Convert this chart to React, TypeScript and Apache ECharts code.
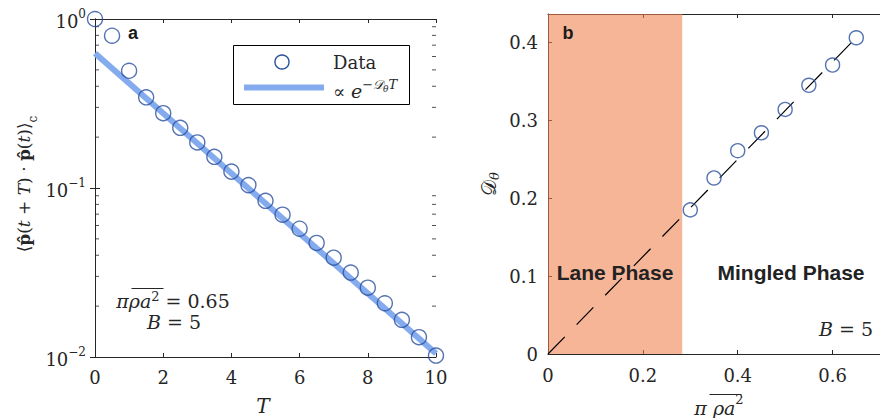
import React, { useEffect, useRef } from "react";
import * as echarts from "echarts";

// Panel a: orientation autocorrelation vs lag time T (log scale)
const lagT = [0, 0.5, 1, 1.5, 2, 2.5, 3, 3.5, 4, 4.5, 5, 5.5, 6, 6.5, 7, 7.5, 8, 8.5, 9, 9.5, 10];
const correlation = [
  1.0, 0.796, 0.494, 0.344, 0.277, 0.227, 0.186, 0.153, 0.125, 0.104, 0.084,
  0.0695, 0.0574, 0.0473, 0.0387, 0.0316, 0.0257, 0.0208, 0.0166, 0.0131, 0.0102,
];
// Exponential fit, a straight line on the log axis
const fitT = [0, 10];
const fitValues = [0.627, 0.0105];
const minorTickValues = [0.02, 0.03, 0.04, 0.05, 0.06, 0.07, 0.08, 0.09, 0.2, 0.3, 0.4, 0.5, 0.6, 0.7, 0.8, 0.9];

// Panel b: rotational diffusion vs area fraction
const areaFraction = [0.3, 0.35, 0.4, 0.45, 0.5, 0.55, 0.6, 0.65];
const rotDiffusion = [0.185, 0.226, 0.261, 0.284, 0.314, 0.345, 0.371, 0.406];
const guideX = [0, 0.66];
const guideY = [0, 0.4125];
const laneBoundary = 0.283;

const SERIF = "DejaVu Serif";
const SANS = "Liberation Sans";
const INK = "#262626";
const MARKER = "#2b509e";
const FIT = "#84abee";
const SHADE = "rgba(241,128,75,0.58)";

const supExp = (e: number) => (e < 0 ? "\u2212" + -e : String(e));

export default function App() {
  const ref = useRef<HTMLDivElement>(null);

  useEffect(() => {
    document.body.style.margin = "0";
    const chart = echarts.init(ref.current!, undefined, { renderer: "svg" });

    const axisLine = { show: true, lineStyle: { color: INK, width: 1 } };
    const tickIn = { show: true, inside: true, length: 4, lineStyle: { color: INK, width: 1 } };
    const numLabel = { fontFamily: SERIF, fontSize: 18, color: INK };

    const option: echarts.EChartsOption = {
      animation: false,
      backgroundColor: "#fff",
      textStyle: { fontFamily: SERIF },
      grid: [
        { left: 95, top: 19, width: 341, height: 338 },
        { left: 548, top: 14, width: 342, height: 340 },
      ],
      xAxis: [
        {
          gridIndex: 0, type: "value", min: 0, max: 10, interval: 2,
          axisLine, axisTick: tickIn, splitLine: { show: false },
          axisLabel: { ...numLabel, margin: 11 },
        },
        {
          gridIndex: 0, type: "value", position: "top", min: 0, max: 10, interval: 2,
          axisLine, axisTick: tickIn, splitLine: { show: false }, axisLabel: { show: false },
        },
        {
          gridIndex: 1, type: "value", min: 0, max: 0.7, interval: 0.2,
          axisLine, axisTick: tickIn, splitLine: { show: false },
          axisLabel: {
            ...numLabel, margin: 12, showMaxLabel: false,
            formatter: (v: number) => (v === 0 ? "0" : v.toFixed(1)),
          },
        },
        {
          gridIndex: 1, type: "value", position: "top", min: 0, max: 0.7, interval: 0.2,
          axisLine, axisTick: tickIn, splitLine: { show: false }, axisLabel: { show: false },
        },
      ],
      yAxis: [
        {
          gridIndex: 0, type: "log", logBase: 10, min: 0.01, max: 1,
          axisLine, axisTick: { ...tickIn, length: 5 }, splitLine: { show: false },
          axisLabel: {
            margin: 9,
            formatter: (v: number) => `{m|10}{e|${supExp(Math.round(Math.log10(v)))}}`,
            rich: {
              m: { fontFamily: SERIF, fontSize: 18, color: INK, lineHeight: 22, verticalAlign: "bottom" },
              e: { fontFamily: SERIF, fontSize: 12, color: INK, lineHeight: 12, verticalAlign: "top" },
            },
          },
        },
        {
          gridIndex: 0, type: "log", logBase: 10, min: 0.01, max: 1, position: "right",
          axisLine, axisTick: { ...tickIn, length: 5 }, splitLine: { show: false }, axisLabel: { show: false },
        },
        {
          gridIndex: 1, type: "value", min: 0, max: 0.4365, interval: 0.1,
          axisLine, axisTick: tickIn, splitLine: { show: false },
          axisLabel: {
            ...numLabel, margin: 10, showMaxLabel: false,
            formatter: (v: number) => (v === 0 ? "0" : v.toFixed(1)),
          },
        },
      ],
      series: [
        {
          type: "line", xAxisIndex: 0, yAxisIndex: 0, z: 3,
          data: fitT.map((t, i) => [t, fitValues[i]]),
          symbol: "none", lineStyle: { color: FIT, width: 6 }, silent: true,
        },
        {
          type: "scatter", xAxisIndex: 0, yAxisIndex: 0, z: 4, clip: false,
          data: lagT.map((t, i) => [t, correlation[i]]),
          symbol: "circle", symbolSize: 15,
          itemStyle: { color: "rgba(0,0,0,0)", borderColor: MARKER, borderWidth: 1.4 },
        },
        {
          type: "scatter", xAxisIndex: 0, yAxisIndex: 0, z: 2, clip: false, silent: true,
          data: minorTickValues.map((v) => [0, v]),
          symbol: "rect", symbolSize: [4, 1], symbolOffset: [2, 0], itemStyle: { color: INK },
        },
        {
          type: "scatter", xAxisIndex: 0, yAxisIndex: 0, z: 2, clip: false, silent: true,
          data: minorTickValues.map((v) => [10, v]),
          symbol: "rect", symbolSize: [4, 1], symbolOffset: [-2, 0], itemStyle: { color: INK },
        },
        {
          type: "line", xAxisIndex: 2, yAxisIndex: 2, z: 3,
          data: guideX.map((x, i) => [x, guideY[i]]),
          symbol: "none", lineStyle: { color: "#000", width: 1.2, type: [24, 17] }, silent: true,
        },
        {
          type: "line", xAxisIndex: 2, yAxisIndex: 2, z: 6, data: [], silent: true,
          markArea: {
            silent: true,
            itemStyle: { color: SHADE },
            data: [[{ xAxis: 0 }, { xAxis: laneBoundary }]],
          },
        },
        {
          type: "scatter", xAxisIndex: 2, yAxisIndex: 2, z: 7, clip: false,
          data: areaFraction.map((x, i) => [x, rotDiffusion[i]]),
          symbol: "circle", symbolSize: 14,
          itemStyle: { color: "rgba(0,0,0,0)", borderColor: MARKER, borderWidth: 1.4 },
        },
      ],
      graphic: [
        // panel tags
        { type: "text", x: 133, y: 33, z: 20, style: { text: "a", fontFamily: SANS, fontWeight: "bold", fontSize: 18, fill: "#1a1a1a", align: "center", verticalAlign: "middle" } },
        { type: "text", x: 568, y: 33, z: 20, style: { text: "b", fontFamily: SANS, fontWeight: "bold", fontSize: 18, fill: "#1a1a1a", align: "center", verticalAlign: "middle" } },
        // legend of panel a
        { type: "rect", z: 20, shape: { x: 233.5, y: 45.5, width: 176, height: 59 }, style: { fill: "#fff", stroke: "#000", lineWidth: 1 } },
        { type: "circle", z: 21, shape: { cx: 282, cy: 62, r: 7 }, style: { fill: "none", stroke: MARKER, lineWidth: 1.4 } },
        { type: "line", z: 21, shape: { x1: 244, y1: 87.5, x2: 324, y2: 87.5 }, style: { stroke: FIT, lineWidth: 6 } },
        { type: "text", x: 333, y: 62, z: 21, style: { text: "Data", fontFamily: SERIF, fontSize: 18, fill: INK, align: "left", verticalAlign: "middle" } },
        {
          type: "text", x: 333, y: 89, z: 21,
          style: {
            text: "{n|\u221d }{i|e}{s|\u2212\ud835\udc9f}{ss|\u03b8}{s|T}",
            align: "left", verticalAlign: "middle",
            rich: {
              n: { fontFamily: SERIF, fontSize: 18, fill: INK, lineHeight: 22, verticalAlign: "bottom" },
              i: { fontFamily: SERIF, fontSize: 19, fontStyle: "italic", fill: INK, lineHeight: 22, verticalAlign: "bottom" },
              s: { fontFamily: SERIF, fontSize: 13, fontStyle: "italic", fill: INK, lineHeight: 14, verticalAlign: "top" },
              ss: { fontFamily: SERIF, fontSize: 9, fontStyle: "italic", fill: INK, lineHeight: 10, verticalAlign: "middle" },
            },
          },
        },
        // parameters of panel a
        {
          type: "text", x: 173, y: 300, z: 20,
          style: {
            text: "{i|\u03c0\u03c1a}{s|2}{n| = 0.65}", align: "center", verticalAlign: "middle",
            rich: {
              i: { fontFamily: SERIF, fontSize: 19, fontStyle: "italic", fill: INK, lineHeight: 20, verticalAlign: "bottom" },
              s: { fontFamily: SERIF, fontSize: 13, fill: INK, lineHeight: 12, verticalAlign: "top" },
              n: { fontFamily: SERIF, fontSize: 19, fill: INK, lineHeight: 20, verticalAlign: "bottom" },
            },
          },
        },
        { type: "line", z: 20, shape: { x1: 131.5, y1: 288.5, x2: 163.5, y2: 288.5 }, style: { stroke: INK, lineWidth: 1 } },
        {
          type: "text", x: 174, y: 322, z: 20,
          style: {
            text: "{i|B}{n| = 5}", align: "center", verticalAlign: "middle",
            rich: {
              i: { fontFamily: SERIF, fontSize: 19, fontStyle: "italic", fill: INK, lineHeight: 20 },
              n: { fontFamily: SERIF, fontSize: 19, fill: INK, lineHeight: 20 },
            },
          },
        },
        // axis titles of panel a
        { type: "text", x: 263, y: 406, z: 20, style: { text: "T", fontFamily: SERIF, fontStyle: "italic", fontSize: 20, fill: INK, align: "center", verticalAlign: "middle" } },
        {
          type: "text", x: 27, y: 184, z: 20, rotation: Math.PI / 2,
          style: {
            text: "{n|\u27e8}{b|p\u0302}{n|(}{i|t}{n| + }{i|T}{n|) \u00b7 }{b|p\u0302}{n|(}{i|t}{n|)\u27e9}{c|c}",
            align: "center", verticalAlign: "middle",
            rich: {
              n: { fontFamily: SERIF, fontSize: 17, fill: INK, lineHeight: 24, verticalAlign: "top" },
              i: { fontFamily: SERIF, fontSize: 17, fontStyle: "italic", fill: INK, lineHeight: 24, verticalAlign: "top" },
              b: { fontFamily: SERIF, fontSize: 17, fontWeight: "bold", fill: INK, lineHeight: 24, verticalAlign: "top" },
              c: { fontFamily: SERIF, fontSize: 12, fill: INK, lineHeight: 12, verticalAlign: "bottom" },
            },
          },
        },
        // phase labels of panel b
        { type: "text", x: 615, y: 272, z: 20, style: { text: "Lane Phase", fontFamily: SANS, fontWeight: "bold", fontSize: 21, fill: "#222", align: "center", verticalAlign: "middle" } },
        { type: "text", x: 791, y: 272, z: 20, style: { text: "Mingled Phase", fontFamily: SANS, fontWeight: "bold", fontSize: 21, fill: "#222", align: "center", verticalAlign: "middle" } },
        {
          type: "text", x: 873, y: 329, z: 20,
          style: {
            text: "{i|B}{n| = 5}", align: "right", verticalAlign: "middle",
            rich: {
              i: { fontFamily: SERIF, fontSize: 19, fontStyle: "italic", fill: INK },
              n: { fontFamily: SERIF, fontSize: 19, fill: INK },
            },
          },
        },
        // axis titles of panel b
        {
          type: "text", x: 719, y: 405, z: 20,
          style: {
            text: "{i|\u03c0 \u03c1a}{s|2}", align: "center", verticalAlign: "middle",
            rich: {
              i: { fontFamily: SERIF, fontSize: 19, fontStyle: "italic", fill: INK, lineHeight: 24, verticalAlign: "bottom" },
              s: { fontFamily: SERIF, fontSize: 13, fill: INK, lineHeight: 14, verticalAlign: "top" },
            },
          },
        },
        { type: "line", z: 20, shape: { x1: 709.5, y1: 394.5, x2: 741.5, y2: 394.5 }, style: { stroke: INK, lineWidth: 1 } },
        {
          type: "text", x: 490, y: 184, z: 20, rotation: Math.PI / 2,
          style: {
            text: "{d|\ud835\udc9f}{t|\u03b8}", align: "center", verticalAlign: "middle",
            rich: {
              d: { fontFamily: SERIF, fontSize: 20, fill: INK, lineHeight: 22, verticalAlign: "top" },
              t: { fontFamily: SERIF, fontSize: 13, fontStyle: "italic", fill: INK, lineHeight: 12, verticalAlign: "bottom" },
            },
          },
        },
      ],
    };

    chart.setOption(option);
    return () => chart.dispose();
  }, []);

  return <div ref={ref} style={{ width: 880, height: 418 }} />;
}
